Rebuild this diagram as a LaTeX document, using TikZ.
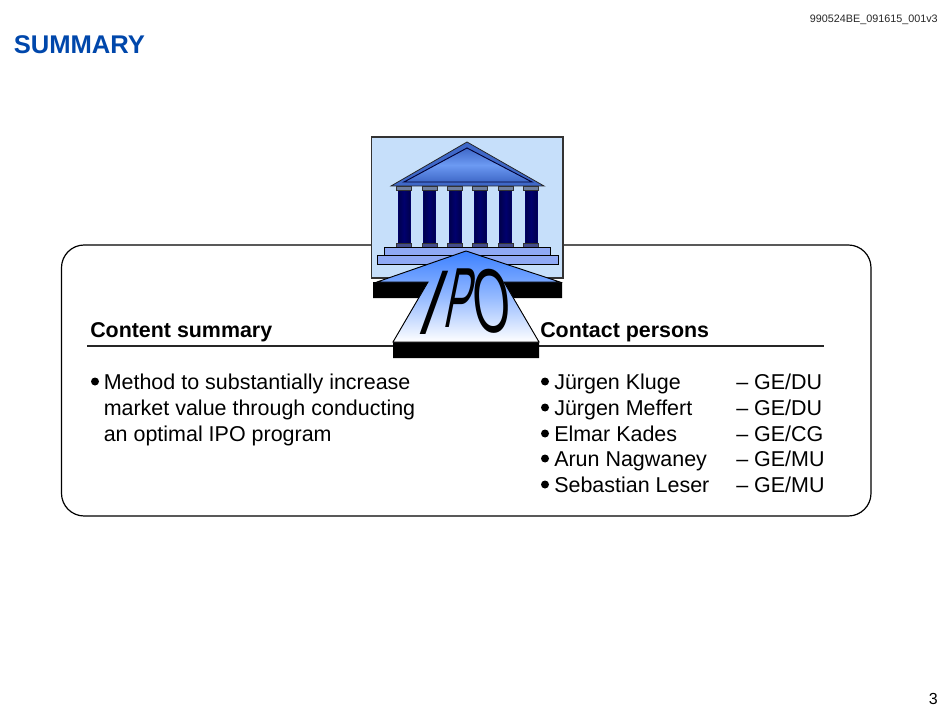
\documentclass[tikz,border=0pt]{standalone}
\usepackage{fontspec}
\setmainfont{Liberation Sans}
\usetikzlibrary{calc}
\definecolor{titleblue}{HTML}{0047AB}
\definecolor{skyfill}{HTML}{C6DFFA}
\definecolor{stepfill}{HTML}{8FA9F5}
\definecolor{roofedge}{HTML}{3F68C8}
\definecolor{roofmid}{HTML}{6C9AF2}
\definecolor{navycol}{HTML}{00006E}
\definecolor{capgrey}{HTML}{6F7F9F}
\definecolor{arrowblue}{HTML}{3C80FF}
\tikzset{
  body/.style={anchor=base west,inner sep=0pt,font=\fontsize{16.1}{16}\selectfont,text=black},
  head/.style={anchor=base west,inner sep=0pt,font=\fontsize{16.05}{16}\bfseries\selectfont,text=black},
  dotmark/.style={circle,fill=black,inner sep=0pt,minimum size=6pt},
  colshaft/.style={draw=black!60!blue,line width=.5pt,left color=black!70!blue,right color=black!70!blue,middle color=navycol},
  colcap/.style={draw=black!80,line width=.4pt,fill=capgrey},
  colbase/.style={draw=black!80,line width=.4pt,fill=capgrey!60!navycol},
  stepbar/.style={draw=black,line width=.6pt,fill=stepfill},
  ipo/.style={inner sep=0pt,font=\fontsize{20}{20}\selectfont,transform shape,text=black}
}
\begin{document}
\begin{tikzpicture}[x=.75pt,y=-.75pt]
\useasboundingbox (0,0) rectangle (950,713);
\node[anchor=base west,inner sep=0pt,font=\fontsize{19.2}{19}\bfseries\selectfont,text=titleblue] (title) at (13.5,54) {SUMMARY};
\node[anchor=base east,inner sep=0pt,font=\fontsize{8.1}{8}\selectfont,text=black!85] (ref) at (938,23) {990524BE\_091615\_001v3};
\node[anchor=base east,inner sep=0pt,font=\fontsize{12}{12}\selectfont] (page) at (938,704) {3};
% panel
\draw[line width=.9pt,rounded corners=17pt] (61.5,245) rectangle (871,516);
\draw[line width=.9pt,black!85] (87,346) -- (824,346);
% building
\draw[line width=.8pt,draw=black!80,fill=skyfill] (371.5,137) rectangle (563,278);
\fill[roofedge,draw=black!85,line width=.6pt] (467,142) -- (544,186) -- (391,186) -- cycle;
\shade[draw=black!80!blue,line width=.7pt,top color=roofedge,bottom color=roofedge,middle color=roofmid] (467,148) -- (532,182) -- (404,182) -- cycle;
\foreach \cx in {404,429.3,455,480,505.7,531}{
  \shade[colshaft] (\cx-6,190) rectangle (\cx+6,243);
  \draw[colcap] (\cx-7.5,186) rectangle (\cx+7.5,190);
  \draw[colbase] (\cx-7.5,243) rectangle (\cx+7.5,247);
}
\draw[stepbar] (384.5,247) rectangle (550,255);
\draw[stepbar] (377,255) rectangle (558,264);
% arrow extrusion
\fill[black] (373,282) -- (428,282) -- (393,342) -- (393,358) -- (539,358) -- (539,342) -- (504,282) -- (562,282) -- (562,298) -- (373,298) -- cycle;
\fill[black] (393,342) rectangle (539,358);
% arrow
\shade[draw=black,line width=.7pt,top color=arrowblue,bottom color=white,middle color=arrowblue!55!white]
  (466,251) -- (560,282) -- (504,282) -- (539,342) -- (393,342) -- (428,282) -- (377,282) -- cycle;
% IPO word art
\node[ipo,xslant=.36,xscale=2.3,yscale=3.45] (ipoI) at (434.5,302.5) {I};
\node[ipo,xslant=.2,xscale=1.45,yscale=3.2] (ipoP) at (461,298.5) {P};
\node[ipo,xslant=-.08,xscale=1.8,yscale=3.4] (ipoO) at (492,301) {O};
% left text
\node[head] (chead) at (90,337) {Content summary};
\node[dotmark] (cdot) at (95,381.5) {};
\node[body] (c1) at (103.5,389) {Method to substantially increase};
\node[body] (c2) at (103.5,415) {market value through conducting};
\node[body] (c3) at (103.5,441) {an optimal IPO program};
% right text
\node[head] (phead) at (540,337) {Contact persons};
\foreach \nm/\who/\off/\yy in {p1/Jürgen Kluge/DU/389,p2/Jürgen Meffert/DU/415,p3/Elmar Kades/CG/441,p4/Arun Nagwaney/MU/466,p5/Sebastian Leser/MU/492}{
  \node[dotmark] (\nm dot) at (545,\yy-7.5) {};
  \node[body] (\nm) at (554,\yy) {\who};
  \node[body] (\nm off) at (736,\yy) {– GE/\off};
}
\end{tikzpicture}
\end{document}
